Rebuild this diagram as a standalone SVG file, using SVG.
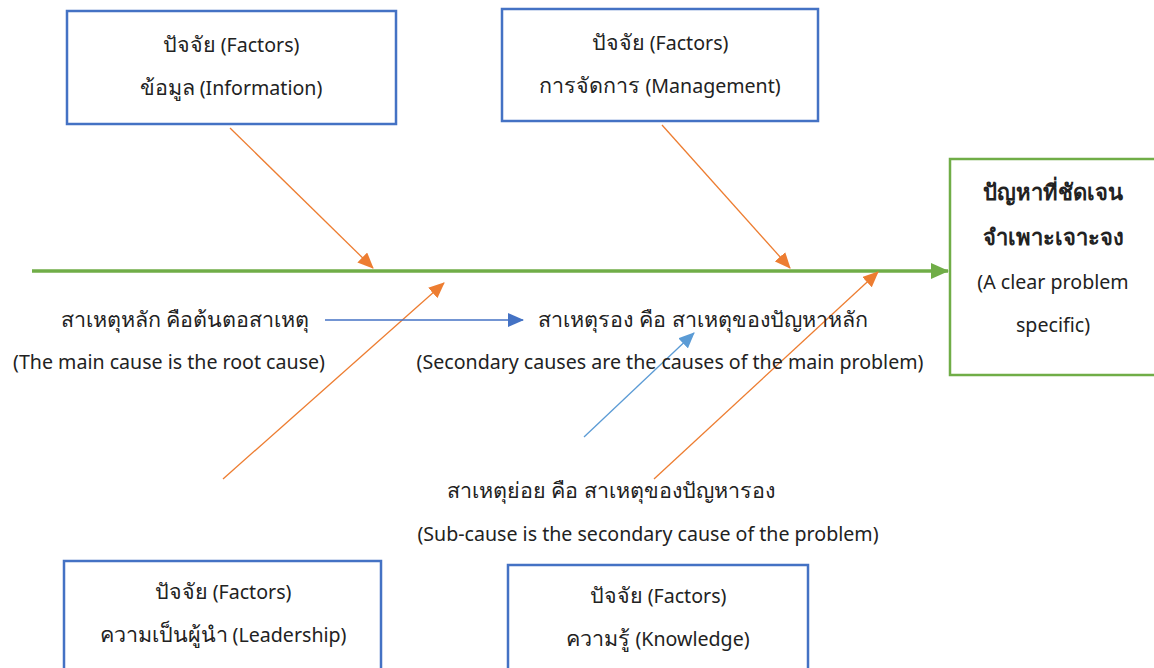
<svg xmlns="http://www.w3.org/2000/svg" width="1154" height="668" viewBox="0 0 1154 668">
<style>
text{font-family:"Noto Sans","DejaVu Sans",sans-serif;font-size:19.6px;fill:#222;text-anchor:middle}
.th{font-size:21.5px}
.b{font-weight:bold;font-size:22px}
.box{fill:#fff;stroke:#4472C4;stroke-width:2.5}
.gbox{fill:#fff;stroke:#70AD47;stroke-width:2.5}
.or{stroke:#ED7D31;stroke-width:1.3;fill:none}
</style>
<defs>
<marker id="ao" markerUnits="userSpaceOnUse" markerWidth="16" markerHeight="14" refX="15" refY="7" orient="auto"><path d="M0,0 L16,7 L0,14 z" fill="#ED7D31"/></marker>
<marker id="ab" markerUnits="userSpaceOnUse" markerWidth="16" markerHeight="14" refX="15" refY="7" orient="auto"><path d="M0,0 L16,7 L0,14 z" fill="#4472C4"/></marker>
<marker id="alb" markerUnits="userSpaceOnUse" markerWidth="16" markerHeight="14" refX="15" refY="7" orient="auto"><path d="M0,0 L16,7 L0,14 z" fill="#5B9BD5"/></marker>
<marker id="ag" markerUnits="userSpaceOnUse" markerWidth="18" markerHeight="16" refX="17" refY="8" orient="auto"><path d="M0,0 L18,8 L0,16 z" fill="#70AD47"/></marker>
</defs>
<g id="connectors">
<line x1="32" y1="271" x2="948" y2="271" stroke="#70AD47" stroke-width="3.5" marker-end="url(#ag)"/>
<line class="or" x1="230" y1="128" x2="373" y2="268" marker-end="url(#ao)"/>
<line class="or" x1="662" y1="125" x2="790" y2="268" marker-end="url(#ao)"/>
<line class="or" x1="223" y1="479" x2="444" y2="283" marker-end="url(#ao)"/>
<line class="or" x1="654" y1="479" x2="878" y2="272" marker-end="url(#ao)"/>
<line x1="584" y1="437" x2="694" y2="333" stroke="#5B9BD5" stroke-width="1.3" marker-end="url(#alb)"/>
<line x1="325" y1="320" x2="523" y2="320" stroke="#4472C4" stroke-width="1.3" marker-end="url(#ab)"/>
</g>
<g id="factor-information">
<rect class="box" x="67" y="11" width="329" height="113"/>
<text x="231" y="52"><tspan class="th">ปัจจัย</tspan> (Factors)</text>
<text x="231" y="95"><tspan class="th">ข้อมูล</tspan> (Information)</text>
</g>
<g id="factor-management">
<rect class="box" x="502" y="9" width="316" height="112"/>
<text x="660" y="50"><tspan class="th">ปัจจัย</tspan> (Factors)</text>
<text x="660" y="93"><tspan class="th">การจัดการ</tspan> (Management)</text>
</g>
<g id="problem">
<rect class="gbox" x="950" y="159" width="210" height="216"/>
<text class="b" x="1053" y="200">ปัญหาที่ชัดเจน</text>
<text class="b" x="1053" y="245">จำเพาะเจาะจง</text>
<text x="1053" y="289">(A clear problem</text>
<text x="1053" y="332">specific)</text>
</g>
<g id="main-cause">
<text class="th" x="185" y="327">สาเหตุหลัก คือต้นตอสาเหตุ</text>
<text x="169" y="369">(The main cause is the root cause)</text>
</g>
<g id="secondary-cause">
<text class="th" x="703" y="327">สาเหตุรอง คือ สาเหตุของปัญหาหลัก</text>
<text x="670" y="369">(Secondary causes are the causes of the main problem)</text>
</g>
<g id="sub-cause">
<text class="th" x="611" y="498">สาเหตุย่อย คือ สาเหตุของปัญหารอง</text>
<text x="648" y="541">(Sub-cause is the secondary cause of the problem)</text>
</g>
<g id="factor-leadership">
<rect class="box" x="64" y="561" width="317" height="115"/>
<text x="223" y="599"><tspan class="th">ปัจจัย</tspan> (Factors)</text>
<text x="223" y="642"><tspan class="th">ความเป็นผู้นำ</tspan> (Leadership)</text>
</g>
<g id="factor-knowledge">
<rect class="box" x="508" y="565" width="300" height="115"/>
<text x="658" y="603"><tspan class="th">ปัจจัย</tspan> (Factors)</text>
<text x="658" y="646"><tspan class="th">ความรู้</tspan> (Knowledge)</text>
</g>
</svg>
